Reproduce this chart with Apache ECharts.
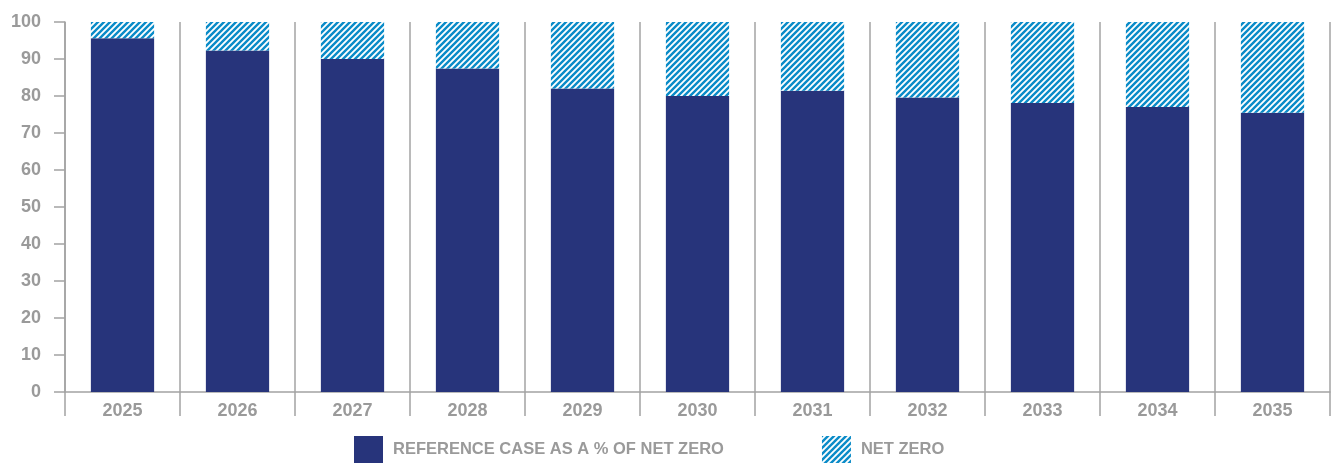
<!DOCTYPE html>
<html>
<head>
<meta charset="utf-8">
<script src="https://cdn.jsdelivr.net/npm/echarts@6/dist/echarts.min.js"></script>
<style>
  html, body { margin: 0; padding: 0; background: #fff; }
  #main { width: 1333px; height: 463px; }
</style>
</head>
<body>
<div id="main"></div>
<script>
var years = ['2025', '2026', '2027', '2028', '2029', '2030', '2031', '2032', '2033', '2034', '2035'];
var referenceCase = [95.6, 92.3, 90.0, 87.4, 82.0, 80.0, 81.4, 79.6, 78.1, 77.0, 75.5];
var netZero = [4.4, 7.7, 10.0, 12.6, 18.0, 20.0, 18.6, 20.4, 21.9, 23.0, 24.5];
var yTicks = [0, 10, 20, 30, 40, 50, 60, 70, 80, 90, 100];

var navy = '#27347b';
var grey = '#a3a3a3';
var labelGrey = '#9a9a9a';
var fontName = '"Liberation Sans", sans-serif';

// diagonal hatch pattern for the net zero part
function makeHatch() {
    var c = document.createElement('canvas');
    c.width = 6; c.height = 6;
    var ctx = c.getContext('2d');
    ctx.fillStyle = '#ffffff';
    ctx.fillRect(0, 0, 6, 6);
    ctx.strokeStyle = '#0a8bc8';
    ctx.lineWidth = 2.4;
    ctx.beginPath();
    ctx.moveTo(-1, 1); ctx.lineTo(1, -1);
    ctx.moveTo(0, 6); ctx.lineTo(6, 0);
    ctx.moveTo(5, 7); ctx.lineTo(7, 5);
    ctx.stroke();
    return c;
}
var hatch = { image: makeHatch(), repeat: 'repeat' };

var myChart = echarts.init(document.getElementById('main'));
var option = {
    animation: false,
    textStyle: { fontFamily: fontName },
    legend: {
        bottom: 0,
        left: 354,
        padding: 0,
        itemWidth: 29,
        itemHeight: 27,
        itemGap: 98,
        icon: 'rect',
        textStyle: {
            color: labelGrey,
            fontSize: 16.5,
            fontWeight: 'bold',
            fontFamily: fontName,
            padding: [3, 0, 0, 5]
        },
        data: ['REFERENCE CASE AS A % OF NET ZERO', 'NET ZERO']
    },
    grid: {
        left: 65,
        right: 3,
        top: 22,
        bottom: 71
    },
    xAxis: {
        type: 'category',
        data: years,
        axisLine: { lineStyle: { color: grey, width: 1.5 } },
        axisTick: { show: true, length: 24, lineStyle: { color: grey, width: 1.5 } },
        splitLine: { show: true, lineStyle: { color: grey, width: 1.5 } },
        axisLabel: {
            color: labelGrey,
            fontSize: 18,
            fontWeight: 'bold',
            margin: 10
        }
    },
    yAxis: {
        type: 'value',
        min: 0,
        max: 100,
        interval: 10,
        axisLine: { show: true, lineStyle: { color: grey, width: 1.5 } },
        axisTick: { show: true, length: 11, lineStyle: { color: grey, width: 1.5 } },
        splitLine: { show: false },
        axisLabel: {
            color: labelGrey,
            fontSize: 18,
            fontWeight: 'bold',
            margin: 24,
            formatter: function (v) { return yTicks.indexOf(v) >= 0 ? String(v) : ''; }
        }
    },
    series: [
        {
            name: 'REFERENCE CASE AS A % OF NET ZERO',
            type: 'bar',
            stack: 'total',
            barWidth: '55%',
            itemStyle: { color: navy },
            data: referenceCase
        },
        {
            name: 'NET ZERO',
            type: 'bar',
            stack: 'total',
            barWidth: '55%',
            itemStyle: { color: hatch },
            data: netZero
        }
    ]
};
myChart.setOption(option);
</script>
</body>
</html>
